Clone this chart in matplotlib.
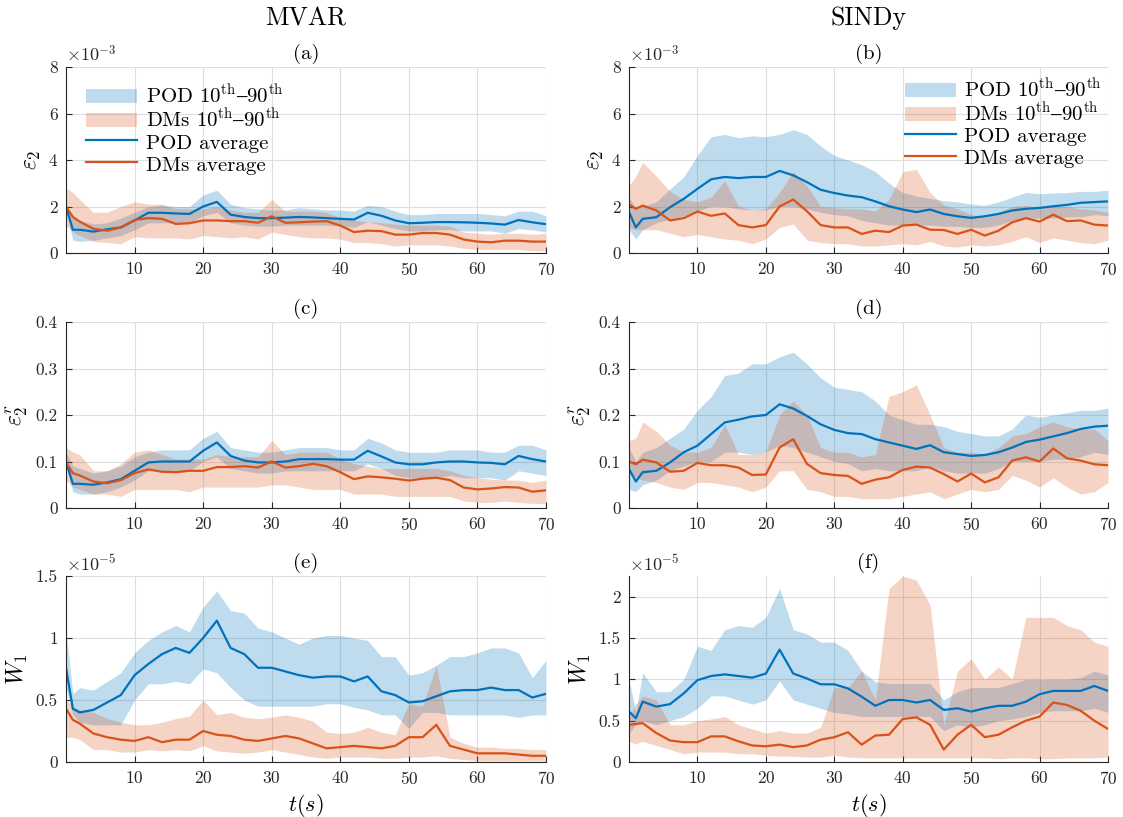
import numpy as np
import matplotlib
matplotlib.use("Agg")
import matplotlib.pyplot as plt
from matplotlib.patches import Patch, Rectangle
from matplotlib.lines import Line2D
from matplotlib.legend_handler import HandlerPatch

plt.rcParams['font.family'] = ['cmr10', 'DejaVu Serif']
plt.rcParams['mathtext.fontset'] = 'cm'
plt.rcParams['axes.formatter.use_mathtext'] = True
plt.rcParams['axes.unicode_minus'] = False

BLUE = '#0072BD'
ORANGE = '#D95319'

# time grid (s)
t = [0, 1, 2, 4, 6, 8, 10, 12, 14, 16, 18, 20, 22, 24, 26, 28, 30, 32, 34, 36,
     38, 40, 42, 44, 46, 48, 50, 52, 54, 56, 58, 60, 62, 64, 66, 68, 70]

# (a) MVAR eps_2, units of 1e-3
a_pod_mean = [2.0, 1.0, 1.0, 0.92, 1.02, 1.1, 1.4, 1.73, 1.73, 1.7, 1.68, 2.0, 2.2, 1.65, 1.55, 1.5, 1.5, 1.52, 1.55, 1.53,
              1.5, 1.47, 1.44, 1.73, 1.6, 1.4, 1.28, 1.3, 1.33, 1.33, 1.32, 1.3, 1.27, 1.22, 1.42, 1.32, 1.24]
a_pod_hi = [2.0, 1.6, 1.4, 1.25, 1.3, 1.5, 1.75, 2.0, 2.05, 2.0, 2.0, 2.5, 2.7, 2.1, 1.95, 1.9, 1.85, 1.85, 1.95, 1.9,
            1.85, 1.85, 1.8, 2.05, 2.0, 1.8, 1.65, 1.65, 1.7, 1.7, 1.7, 1.7, 1.65, 1.6, 1.8, 1.8, 1.6]
a_pod_lo = [1.8, 0.55, 0.5, 0.55, 0.65, 0.75, 1.0, 1.3, 1.3, 1.3, 1.3, 1.6, 1.75, 1.3, 1.2, 1.15, 1.15, 1.2, 1.2, 1.2,
            1.2, 1.15, 1.1, 1.35, 1.2, 1.05, 0.95, 0.95, 1.0, 1.0, 0.95, 0.95, 0.95, 0.85, 1.05, 1.0, 0.9]
a_dms_mean = [2.0, 1.55, 1.35, 1.04, 0.96, 1.1, 1.42, 1.5, 1.47, 1.25, 1.28, 1.4, 1.4, 1.37, 1.37, 1.3, 1.58, 1.3, 1.32, 1.35,
              1.37, 1.18, 0.9, 0.96, 0.94, 0.79, 0.79, 0.86, 0.86, 0.79, 0.58, 0.49, 0.46, 0.53, 0.53, 0.49, 0.49]
a_dms_hi = [2.8, 2.6, 2.3, 1.75, 1.75, 2.0, 2.2, 2.1, 2.1, 1.9, 1.9, 1.9, 2.0, 1.85, 1.75, 1.75, 2.3, 1.8, 1.8, 1.8,
            1.75, 1.5, 1.4, 1.35, 1.3, 1.25, 1.2, 1.2, 1.2, 1.15, 0.9, 0.85, 0.8, 0.85, 0.85, 0.8, 0.85]
a_dms_lo = [1.2, 0.9, 0.75, 0.5, 0.45, 0.4, 0.7, 0.65, 0.65, 0.65, 0.6, 0.75, 0.7, 0.65, 0.7, 0.6, 0.9, 0.8, 0.7, 0.65,
            0.65, 0.6, 0.45, 0.45, 0.4, 0.3, 0.35, 0.35, 0.35, 0.3, 0.2, 0.15, 0.15, 0.15, 0.15, 0.1, 0.1]

# (b) SINDy eps_2, units of 1e-3
b_pod_mean = [1.76, 1.1, 1.47, 1.54, 1.97, 2.33, 2.76, 3.17, 3.27, 3.22, 3.27, 3.27, 3.53, 3.34, 3.05, 2.72, 2.58, 2.47, 2.4, 2.22,
              2.01, 1.87, 1.76, 1.87, 1.68, 1.58, 1.51, 1.58, 1.68, 1.83, 1.9, 1.94, 2.01, 2.07, 2.16, 2.19, 2.22]
b_pod_hi = [2.4, 1.9, 2.0, 2.2, 2.76, 3.27, 4.2, 5.0, 5.1, 4.96, 5.04, 5.0, 5.1, 5.3, 5.1, 4.6, 4.2, 4.0, 3.8, 3.5,
            3.0, 2.6, 2.45, 2.35, 2.25, 2.2, 2.1, 2.05, 2.2, 2.4, 2.6, 2.55, 2.58, 2.6, 2.65, 2.65, 2.7]
b_pod_lo = [1.0, 0.6, 1.0, 1.3, 1.45, 1.6, 1.8, 2.0, 2.0, 1.9, 1.85, 1.85, 2.0, 2.0, 1.9, 1.75, 1.65, 1.6, 1.4, 1.3,
            1.2, 1.2, 1.2, 1.2, 1.15, 1.15, 1.1, 1.1, 1.2, 1.4, 1.5, 1.5, 1.5, 1.55, 1.55, 1.65, 1.6]
b_dms_mean = [2.09, 1.9, 2.04, 1.83, 1.4, 1.5, 1.78, 1.6, 1.7, 1.2, 1.1, 1.2, 2.0, 2.3, 1.8, 1.2, 1.1, 1.1, 0.82, 0.96,
              0.9, 1.18, 1.22, 1.0, 0.99, 0.82, 1.0, 0.75, 0.96, 1.32, 1.5, 1.35, 1.65, 1.37, 1.4, 1.22, 1.18]
b_dms_hi = [2.9, 3.3, 3.9, 3.3, 2.65, 2.3, 2.2, 2.4, 3.1, 2.0, 1.85, 1.9, 2.6, 3.5, 2.9, 2.0, 1.95, 1.9, 1.9, 1.8,
            2.3, 3.5, 3.6, 2.6, 2.05, 1.9, 1.65, 1.55, 1.75, 2.0, 2.05, 1.95, 2.0, 2.0, 1.9, 1.85, 1.75]
b_dms_lo = [1.1, 1.0, 1.0, 1.0, 0.85, 0.7, 0.8, 0.7, 0.6, 0.55, 0.4, 0.6, 1.1, 1.25, 0.55, 0.45, 0.4, 0.4, 0.3, 0.3,
            0.35, 0.4, 0.35, 0.5, 0.3, 0.25, 0.35, 0.3, 0.35, 0.5, 0.7, 0.45, 0.65, 0.55, 0.45, 0.4, 0.55]

# (c) MVAR eps_2^r
c_pod_mean = [0.1, 0.052, 0.052, 0.05, 0.055, 0.062, 0.08, 0.098, 0.1, 0.1, 0.1, 0.123, 0.141, 0.112, 0.102, 0.098, 0.098, 0.1, 0.105, 0.105,
              0.105, 0.104, 0.104, 0.123, 0.111, 0.098, 0.094, 0.094, 0.098, 0.1, 0.1, 0.098, 0.097, 0.094, 0.112, 0.105, 0.1]
c_pod_hi = [0.12, 0.09, 0.085, 0.075, 0.08, 0.09, 0.11, 0.12, 0.125, 0.125, 0.125, 0.15, 0.165, 0.13, 0.125, 0.12, 0.12, 0.125, 0.13, 0.13,
            0.13, 0.125, 0.125, 0.15, 0.14, 0.125, 0.12, 0.12, 0.12, 0.125, 0.125, 0.125, 0.12, 0.12, 0.135, 0.135, 0.125]
c_pod_lo = [0.09, 0.035, 0.03, 0.03, 0.035, 0.045, 0.06, 0.08, 0.08, 0.08, 0.08, 0.1, 0.11, 0.085, 0.08, 0.075, 0.075, 0.08, 0.08, 0.08,
            0.08, 0.08, 0.08, 0.095, 0.085, 0.07, 0.065, 0.065, 0.065, 0.07, 0.065, 0.065, 0.065, 0.06, 0.08, 0.075, 0.07]
c_dms_mean = [0.098, 0.075, 0.07, 0.057, 0.053, 0.06, 0.075, 0.083, 0.078, 0.077, 0.08, 0.08, 0.088, 0.088, 0.09, 0.087, 0.1, 0.087, 0.09, 0.095,
              0.09, 0.077, 0.062, 0.068, 0.066, 0.063, 0.059, 0.063, 0.065, 0.06, 0.044, 0.04, 0.042, 0.045, 0.044, 0.035, 0.038]
c_dms_hi = [0.13, 0.12, 0.115, 0.08, 0.08, 0.095, 0.12, 0.125, 0.115, 0.105, 0.105, 0.105, 0.115, 0.11, 0.11, 0.11, 0.145, 0.115, 0.12, 0.12,
            0.12, 0.105, 0.095, 0.09, 0.085, 0.085, 0.085, 0.085, 0.085, 0.08, 0.07, 0.065, 0.062, 0.06, 0.06, 0.055, 0.06]
c_dms_lo = [0.06, 0.045, 0.04, 0.03, 0.03, 0.025, 0.04, 0.04, 0.04, 0.04, 0.035, 0.045, 0.045, 0.045, 0.045, 0.045, 0.05, 0.05, 0.045, 0.04,
            0.04, 0.04, 0.03, 0.03, 0.03, 0.025, 0.025, 0.025, 0.025, 0.025, 0.015, 0.012, 0.012, 0.015, 0.012, 0.01, 0.01]

# (d) SINDy eps_2^r
d_pod_mean = [0.084, 0.057, 0.077, 0.08, 0.098, 0.12, 0.134, 0.159, 0.184, 0.19, 0.197, 0.2, 0.223, 0.214, 0.198, 0.18, 0.168, 0.161, 0.159, 0.148,
              0.141, 0.134, 0.127, 0.135, 0.12, 0.116, 0.112, 0.114, 0.12, 0.13, 0.142, 0.147, 0.154, 0.161, 0.17, 0.175, 0.177]
d_pod_hi = [0.13, 0.1, 0.12, 0.13, 0.15, 0.17, 0.21, 0.24, 0.285, 0.29, 0.31, 0.31, 0.325, 0.335, 0.31, 0.28, 0.26, 0.255, 0.25, 0.23,
            0.2, 0.19, 0.18, 0.18, 0.175, 0.165, 0.16, 0.155, 0.155, 0.17, 0.2, 0.195, 0.2, 0.205, 0.21, 0.21, 0.215]
d_pod_lo = [0.04, 0.035, 0.05, 0.06, 0.08, 0.09, 0.1, 0.1, 0.12, 0.12, 0.115, 0.12, 0.135, 0.13, 0.12, 0.11, 0.1, 0.095, 0.08, 0.085,
            0.08, 0.08, 0.08, 0.09, 0.08, 0.075, 0.075, 0.075, 0.085, 0.1, 0.1, 0.1, 0.105, 0.105, 0.11, 0.12, 0.115]
d_dms_mean = [0.1, 0.094, 0.104, 0.098, 0.078, 0.08, 0.097, 0.092, 0.092, 0.087, 0.071, 0.072, 0.13, 0.148, 0.095, 0.075, 0.071, 0.069, 0.052, 0.061,
              0.066, 0.082, 0.089, 0.087, 0.073, 0.057, 0.074, 0.055, 0.066, 0.102, 0.109, 0.1, 0.128, 0.107, 0.102, 0.094, 0.092]
d_dms_hi = [0.145, 0.15, 0.185, 0.165, 0.135, 0.12, 0.12, 0.13, 0.18, 0.115, 0.115, 0.12, 0.2, 0.23, 0.2, 0.13, 0.12, 0.12, 0.11, 0.115,
            0.24, 0.25, 0.265, 0.2, 0.13, 0.12, 0.12, 0.115, 0.13, 0.155, 0.16, 0.175, 0.185, 0.175, 0.17, 0.17, 0.145]
d_dms_lo = [0.075, 0.065, 0.06, 0.055, 0.045, 0.04, 0.055, 0.055, 0.05, 0.045, 0.035, 0.045, 0.08, 0.08, 0.04, 0.035, 0.025, 0.025, 0.02, 0.02,
            0.02, 0.025, 0.03, 0.035, 0.02, 0.03, 0.04, 0.035, 0.04, 0.07, 0.06, 0.045, 0.065, 0.045, 0.03, 0.035, 0.055]

# (e) MVAR W_1, units of 1e-5
e_pod_mean = [0.76, 0.43, 0.40, 0.42, 0.48, 0.54, 0.7, 0.79, 0.87, 0.92, 0.88, 1.0, 1.14, 0.92, 0.87, 0.76, 0.76, 0.73, 0.7, 0.68,
              0.69, 0.69, 0.65, 0.69, 0.57, 0.54, 0.48, 0.49, 0.53, 0.57, 0.58, 0.58, 0.6, 0.58, 0.58, 0.52, 0.55]
e_pod_hi = [1.05, 0.55, 0.6, 0.58, 0.65, 0.72, 0.88, 0.98, 1.05, 1.1, 1.05, 1.25, 1.38, 1.22, 1.2, 1.08, 1.05, 1.0, 0.95, 1.0,
            1.02, 1.02, 1.0, 0.98, 0.85, 0.85, 0.7, 0.72, 0.78, 0.85, 0.85, 0.88, 0.92, 0.92, 0.88, 0.68, 0.82]
e_pod_lo = [0.6, 0.38, 0.32, 0.3, 0.3, 0.3, 0.5, 0.63, 0.63, 0.65, 0.63, 0.75, 0.72, 0.6, 0.5, 0.45, 0.45, 0.45, 0.45, 0.45,
            0.47, 0.47, 0.44, 0.42, 0.38, 0.38, 0.27, 0.4, 0.4, 0.38, 0.38, 0.38, 0.38, 0.38, 0.36, 0.38, 0.38]
e_dms_mean = [0.43, 0.34, 0.31, 0.23, 0.2, 0.18, 0.17, 0.2, 0.16, 0.18, 0.18, 0.25, 0.22, 0.21, 0.18, 0.17, 0.19, 0.21, 0.19, 0.15,
              0.11, 0.12, 0.13, 0.12, 0.11, 0.13, 0.2, 0.2, 0.3, 0.13, 0.1, 0.07, 0.07, 0.07, 0.06, 0.05, 0.05]
e_dms_hi = [0.5, 0.45, 0.42, 0.4, 0.35, 0.32, 0.3, 0.3, 0.32, 0.35, 0.37, 0.5, 0.38, 0.4, 0.36, 0.35, 0.36, 0.38, 0.36, 0.33,
            0.24, 0.23, 0.24, 0.28, 0.24, 0.22, 0.47, 0.45, 0.78, 0.2, 0.15, 0.12, 0.12, 0.11, 0.11, 0.1, 0.1]
e_dms_lo = [0.2, 0.2, 0.18, 0.1, 0.1, 0.08, 0.08, 0.1, 0.09, 0.1, 0.09, 0.13, 0.09, 0.08, 0.07, 0.08, 0.1, 0.08, 0.06, 0.04,
            0.03, 0.04, 0.04, 0.04, 0.03, 0.03, 0.04, 0.04, 0.05, 0.03, 0.02, 0.01, 0.01, 0.01, 0.01, 0.01, 0.01]

# (f) SINDy W_1, units of 1e-5
f_pod_mean = [0.61, 0.53, 0.73, 0.67, 0.70, 0.83, 0.99, 1.04, 1.06, 1.04, 1.02, 1.07, 1.36, 1.07, 1.01, 0.94, 0.94, 0.89, 0.79, 0.68,
              0.75, 0.75, 0.72, 0.75, 0.63, 0.65, 0.61, 0.65, 0.68, 0.68, 0.73, 0.82, 0.86, 0.86, 0.86, 0.92, 0.86]
f_pod_hi = [1.0, 0.6, 1.08, 0.85, 0.85, 1.0, 1.4, 1.35, 1.6, 1.65, 1.63, 1.75, 2.1, 1.6, 1.55, 1.45, 1.45, 1.35, 1.1, 0.97,
            0.95, 0.95, 0.95, 0.95, 0.75, 0.85, 0.9, 0.9, 0.9, 0.95, 1.0, 1.0, 1.0, 1.0, 1.02, 1.1, 1.05]
f_pod_lo = [0.35, 0.45, 0.5, 0.45, 0.5, 0.55, 0.65, 0.8, 0.8, 0.75, 0.7, 0.75, 0.98, 0.75, 0.7, 0.65, 0.6, 0.58, 0.55, 0.55,
            0.55, 0.55, 0.55, 0.55, 0.38, 0.45, 0.42, 0.45, 0.5, 0.52, 0.55, 0.6, 0.62, 0.62, 0.62, 0.65, 0.6]
f_dms_mean = [0.45, 0.46, 0.47, 0.35, 0.26, 0.24, 0.24, 0.31, 0.31, 0.25, 0.2, 0.19, 0.21, 0.18, 0.2, 0.27, 0.3, 0.36, 0.21, 0.32,
              0.33, 0.52, 0.54, 0.45, 0.15, 0.33, 0.45, 0.3, 0.33, 0.42, 0.5, 0.55, 0.72, 0.69, 0.62, 0.5, 0.4]
f_dms_hi = [0.55, 0.7, 0.8, 0.75, 0.45, 0.45, 0.5, 0.52, 0.55, 0.45, 0.4, 0.35, 0.38, 0.35, 0.35, 0.42, 0.9, 0.9, 1.1, 0.75,
            2.1, 2.25, 2.2, 1.9, 0.45, 1.1, 1.25, 1.0, 1.15, 1.0, 1.75, 1.75, 1.75, 1.65, 1.6, 1.45, 1.4]
f_dms_lo = [0.25, 0.22, 0.25, 0.2, 0.15, 0.1, 0.12, 0.12, 0.12, 0.1, 0.1, 0.08, 0.07, 0.07, 0.06, 0.06, 0.08, 0.06, 0.05, 0.05,
            0.05, 0.05, 0.05, 0.05, 0.05, 0.05, 0.05, 0.05, 0.04, 0.05, 0.05, 0.04, 0.04, 0.05, 0.05, 0.05, 0.06]

panels = [
    # letter, data, ylim, yticks, ylabel, exponent
    ('a', (a_pod_lo, a_pod_hi, a_pod_mean, a_dms_lo, a_dms_hi, a_dms_mean), 8, [0, 2, 4, 6, 8], r'$\varepsilon_2$', '-3'),
    ('b', (b_pod_lo, b_pod_hi, b_pod_mean, b_dms_lo, b_dms_hi, b_dms_mean), 8, [0, 2, 4, 6, 8], r'$\varepsilon_2$', '-3'),
    ('c', (c_pod_lo, c_pod_hi, c_pod_mean, c_dms_lo, c_dms_hi, c_dms_mean), 0.4, [0, 0.1, 0.2, 0.3, 0.4], r'$\varepsilon_2^r$', None),
    ('d', (d_pod_lo, d_pod_hi, d_pod_mean, d_dms_lo, d_dms_hi, d_dms_mean), 0.4, [0, 0.1, 0.2, 0.3, 0.4], r'$\varepsilon_2^r$', None),
    ('e', (e_pod_lo, e_pod_hi, e_pod_mean, e_dms_lo, e_dms_hi, e_dms_mean), 1.5, [0, 0.5, 1, 1.5], r'$W_1$', '-5'),
    ('f', (f_pod_lo, f_pod_hi, f_pod_mean, f_dms_lo, f_dms_hi, f_dms_mean), 2.25, [0, 0.5, 1, 1.5, 2], r'$W_1$', '-5'),
]

W, H = 1123, 817
fig = plt.figure(figsize=(W / 100, H / 100), dpi=100)

lefts = [66, 629]
widths = [480, 479]
tops = [67, 322, 576]
ax_h = 186

axes = []
for i, (letter, data, ytop, yticks, ylabel, expo) in enumerate(panels):
    row, col = divmod(i, 2)
    x0 = lefts[col]
    y0 = tops[row] + ax_h
    ax = fig.add_axes([x0 / W, 1 - y0 / H, widths[col] / W, ax_h / H])
    axes.append(ax)
    pod_lo, pod_hi, pod_mean, dms_lo, dms_hi, dms_mean = data
    ax.fill_between(t, pod_lo, pod_hi, color=BLUE, alpha=0.25, lw=0)
    ax.fill_between(t, dms_lo, dms_hi, color=ORANGE, alpha=0.25, lw=0)
    ax.plot(t, pod_mean, color=BLUE, lw=1.6)
    ax.plot(t, dms_mean, color=ORANGE, lw=1.6)

    ax.set_xlim(0, 70)
    ax.set_ylim(0, ytop)
    ax.set_xticks([10, 20, 30, 40, 50, 60, 70])
    ax.set_yticks(yticks)
    ax.set_yticklabels(['%g' % v for v in yticks])
    ax.grid(True, color='#dedede', lw=0.8)
    ax.set_axisbelow(True)
    for s in ['top', 'right']:
        ax.spines[s].set_visible(False)
    for s in ['left', 'bottom']:
        ax.spines[s].set_color('#262626')
        ax.spines[s].set_linewidth(0.8)
    ax.tick_params(direction='in', length=4, width=0.8, colors='#262626', labelsize=12.5, pad=6)
    ax.set_ylabel(ylabel, fontsize=17, labelpad=4)
    # panel letter, baseline 8 px above the axes
    fig.text((x0 + widths[col] / 2) / W, 1 - (tops[row] - 8) / H, '(%s)' % letter,
             ha='center', va='baseline', fontsize=15)
    if expo is not None:
        ax.text(0.0, 1.015, r'$\times10^{%s}$' % expo, transform=ax.transAxes, fontsize=13,
                ha='left', va='bottom', color='#262626')
    if row == 2:
        fig.text((x0 + widths[col] / 2) / W, 1 - 811 / H, r'$t(s)$', ha='center', va='baseline', fontsize=16)

fig.text((66 + 240) / W, 1 - 25 / H, 'MVAR', ha='center', va='baseline', fontsize=18.5)
fig.text((629 + 240) / W, 1 - 25 / H, 'SINDy', ha='center', va='baseline', fontsize=18.5)


def short_patch(legend, orig_handle, xdescent, ydescent, width, height, fontsize):
    # band swatch a bit shorter than the legend row
    return Rectangle((-xdescent, -ydescent + 0.16 * height), width, 0.68 * height)


handles = [Patch(facecolor=BLUE, alpha=0.25, edgecolor='none'),
           Patch(facecolor=ORANGE, alpha=0.25, edgecolor='none'),
           Line2D([], [], color=BLUE, lw=1.6),
           Line2D([], [], color=ORANGE, lw=1.6)]
labels = [r'POD 10$^{\rm th}$$\mathrm{–}$90$^{\rm th}$', r'DMs 10$^{\rm th}$$\mathrm{–}$90$^{\rm th}$',
          'POD average', 'DMs average']
hmap = {Patch: HandlerPatch(patch_func=short_patch)}

axes[0].legend(handles, labels, loc='upper left', bbox_to_anchor=(0.042, 0.91), frameon=False, fontsize=15,
               handlelength=2.45, handleheight=1.12, labelspacing=0.02, handletextpad=0.4,
               borderpad=0, borderaxespad=0, handler_map=hmap)
axes[1].legend(handles, labels, loc='upper right', bbox_to_anchor=(0.987, 0.945), frameon=False, fontsize=15,
               handlelength=2.45, handleheight=1.12, labelspacing=0.02, handletextpad=0.4,
               borderpad=0, borderaxespad=0, handler_map=hmap)

fig.savefig('out.png', dpi=100)
